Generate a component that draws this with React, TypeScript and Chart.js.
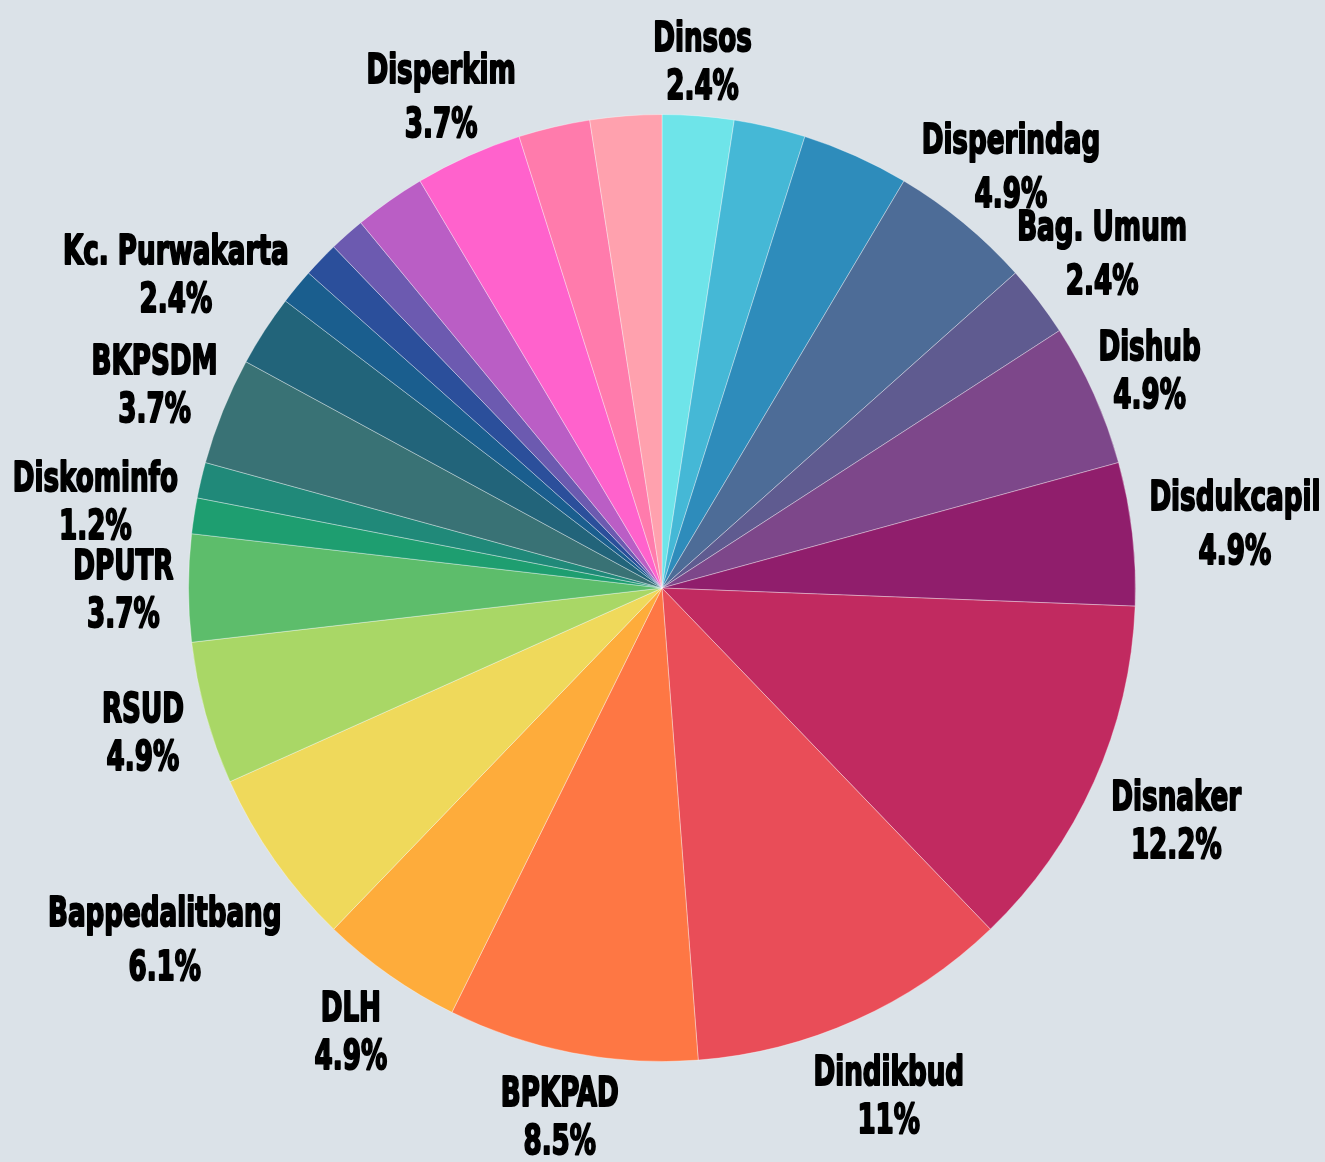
import React, { useEffect, useRef } from "react";
import { Chart, registerables } from "chart.js";

Chart.register(...registerables);

// Slices clockwise from 12 o'clock. Empty names = slices whose label is hidden in the reference.
const categories: string[] = [
  "Dinsos", "", "", "Disperindag", "Bag. Umum", "Dishub", "Disdukcapil",
  "Disnaker", "Dindikbud", "BPKPAD", "DLH", "Bappedalitbang", "RSUD",
  "DPUTR", "Diskominfo", "", "BKPSDM", "Kc. Purwakarta", "", "", "", "",
  "Disperkim", "", "",
];
const values: number[] = [
  2, 2, 3, 4, 2, 4, 4, 10, 9, 7, 4, 5, 4, 3, 1, 1, 3, 2, 1, 1, 1, 2, 3, 2, 2,
];
const colors: string[] = [
  "#6ee4e9", "#45b8d6", "#2e8cbb", "#4d6c97", "#5f5b90", "#7d478a", "#901e6c",
  "#c12a60", "#e94d58", "#fe7744", "#feac3b", "#efd95b", "#a9d766", "#5dbd6b",
  "#1e9e70", "#208979", "#397275", "#22647a", "#1a5e8e", "#2b4f9b", "#6c5ab0",
  "#ba5ec5", "#ff62cc", "#ff7bac", "#ffa1ae",
];

const BG = "#dbe2e8";

const labelPlugin = {
  id: "outerLabels",
  afterDatasetsDraw(chart: any) {
    const ctx = chart.ctx as CanvasRenderingContext2D;
    const meta = chart.getDatasetMeta(0);
    const data = chart.data.datasets[0].data as number[];
    const total = data.reduce((a: number, b: number) => a + b, 0);
    const fontSize = 41;
    const sx = 0.71;
    const capH = fontSize * 0.729;
    const off = 14;
    ctx.save();
    ctx.font = `bold ${fontSize}px "DejaVu Sans Condensed", "DejaVu Sans", sans-serif`;
    ctx.fillStyle = "#000";
    ctx.strokeStyle = "#000";
    ctx.lineWidth = 2;
    ctx.lineJoin = "round";
    ctx.textAlign = "center";
    ctx.textBaseline = "alphabetic";
    meta.data.forEach((arc: any, i: number) => {
      const name = chart.data.labels[i];
      if (!name) return;
      const p = arc.getProps(["x", "y", "startAngle", "endAngle", "outerRadius"], true);
      const mid = (p.startAngle + p.endAngle) / 2;
      const vx = Math.cos(mid);
      const vy = Math.sin(mid);
      const pct = Math.round((data[i] / total) * 1000) / 10 + "%";
      const lines = [name, pct];
      const desc = ctx.measureText(name).actualBoundingBoxDescent || 0;
      const lineGap = desc > 2 ? 54 : 48;
      const boxH = lineGap + capH;
      const w = Math.max(...lines.map((l) => ctx.measureText(l).width)) * sx + 2;
      const upperDiag = vy < 0 ? 120 * (vx * vy) * (vx * vy) : 0;
      const dist =
        p.outerRadius + off + Math.abs(vx) * (w / 2) + Math.abs(vy) * (boxH / 2) - upperDiag;
      const cx = p.x + vx * dist;
      const cy = p.y + vy * dist;
      lines.forEach((l, k) => {
        const ly = cy + (k - (lines.length - 1) / 2) * lineGap + capH / 2;
        ctx.save();
        ctx.translate(cx, ly);
        ctx.scale(sx, 1);
        ctx.strokeText(l, 0, 0);
        ctx.fillText(l, 0, 0);
        ctx.restore();
      });
    });
    ctx.restore();
  },
};

export default function App() {
  const ref = useRef<HTMLCanvasElement | null>(null);
  useEffect(() => {
    document.body.style.margin = "0";
    document.body.style.background = BG;
    const canvas = ref.current;
    if (!canvas) return;
    const chart = new Chart(canvas, {
      type: "pie",
      data: {
        labels: categories,
        datasets: [
          {
            data: values,
            backgroundColor: colors,
            borderColor: "rgba(255,255,255,0.35)",
            borderWidth: 1,
          },
        ],
      },
      options: {
        responsive: false,
        animation: false,
        layout: { padding: { left: 187, right: 188, top: 114, bottom: 100 } },
        plugins: {
          legend: { display: false },
          tooltip: { enabled: false },
        },
      },
      plugins: [labelPlugin],
    });
    return () => chart.destroy();
  }, []);
  return (
    <div style={{ width: 1325, height: 1162, background: BG }}>
      <canvas ref={ref} width={1325} height={1162} style={{ display: "block" }} />
    </div>
  );
}
